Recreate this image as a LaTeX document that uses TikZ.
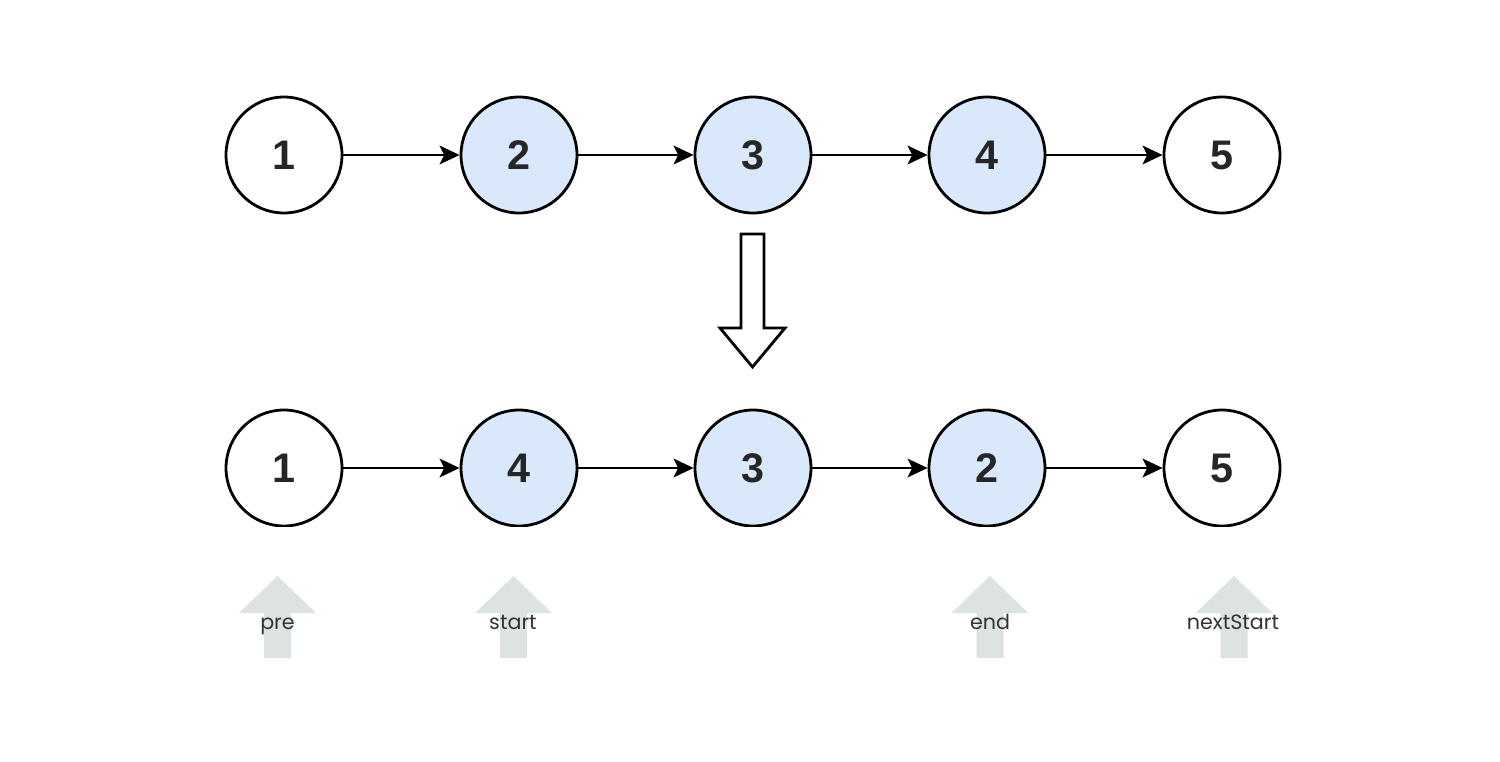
\documentclass[tikz,border=0pt]{standalone}
\usepackage{fontspec}
\setmainfont{Liberation Sans}
\newfontfamily\labelfont{Poppins}
\usetikzlibrary{arrows.meta}
\definecolor{nodeblue}{HTML}{DAE8FC}
\definecolor{ptrgray}{HTML}{DCE3E1}
\definecolor{labeltext}{HTML}{333333}
\begin{document}
\begin{tikzpicture}[x=0.75pt,y=-0.75pt,
  listnode/.style={circle,draw=black,line width=2.1pt,minimum size=87pt,inner sep=0pt,
    font=\fontsize{31}{31}\selectfont\bfseries,text=black!85},
  bluenode/.style={listnode,fill=nodeblue},
  whitenode/.style={listnode,fill=white},
  link/.style={line width=2.1pt,-{Stealth[length=15pt,width=14pt,inset=3.5pt]}},
  ptr/.style={fill=ptrgray,draw=none},
  ptrlabel/.style={font=\labelfont\fontsize{15.5}{15.5}\selectfont,text=labeltext,inner sep=0pt,anchor=base}]
\useasboundingbox (0,0) rectangle (1500,761);
% top row
\node[whitenode] (t1) at (284,155) {1};
\node[bluenode]  (t2) at (519,155) {2};
\node[bluenode]  (t3) at (753,155) {3};
\node[bluenode]  (t4) at (987,155) {4};
\node[whitenode] (t5) at (1222,155) {5};
\draw[link] (t1) -- (t2);
\draw[link] (t2) -- (t3);
\draw[link] (t3) -- (t4);
\draw[link] (t4) -- (t5);
% hollow down arrow
\draw[line width=2.1pt,fill=white,line join=miter]
  (741,234) -- (764,234) -- (764,328) -- (785,328) -- (752.5,367) -- (720,328) -- (741,328) -- cycle;
% bottom row
\begin{scope}
\clip (0,0) rectangle (1500,526);
\node[whitenode] (b1) at (284,468) {1};
\node[bluenode]  (b2) at (519,468) {4};
\node[bluenode]  (b3) at (753,468) {3};
\node[bluenode]  (b4) at (987,468) {2};
\node[whitenode] (b5) at (1222,468) {5};
\draw[link] (b1) -- (b2);
\draw[link] (b2) -- (b3);
\draw[link] (b3) -- (b4);
\draw[link] (b4) -- (b5);
\end{scope}
% pointer arrows
\foreach \cx in {277.5,513.5,990,1234}{
  \fill[ptr] (\cx-13.5,658) -- (\cx+13.5,658) -- (\cx+13.5,613) -- (\cx+38.5,613)
    -- (\cx,576) -- (\cx-38.5,613) -- (\cx-13.5,613) -- cycle;
}
\node[ptrlabel] (lpre)   at (277.5,629) {pre};
\node[ptrlabel] (lstart) at (513,629) {start};
\node[ptrlabel] (lend)   at (990,629) {end};
\node[ptrlabel] (lnext)  at (1233,629) {nextStart};
\end{tikzpicture}
\end{document}
